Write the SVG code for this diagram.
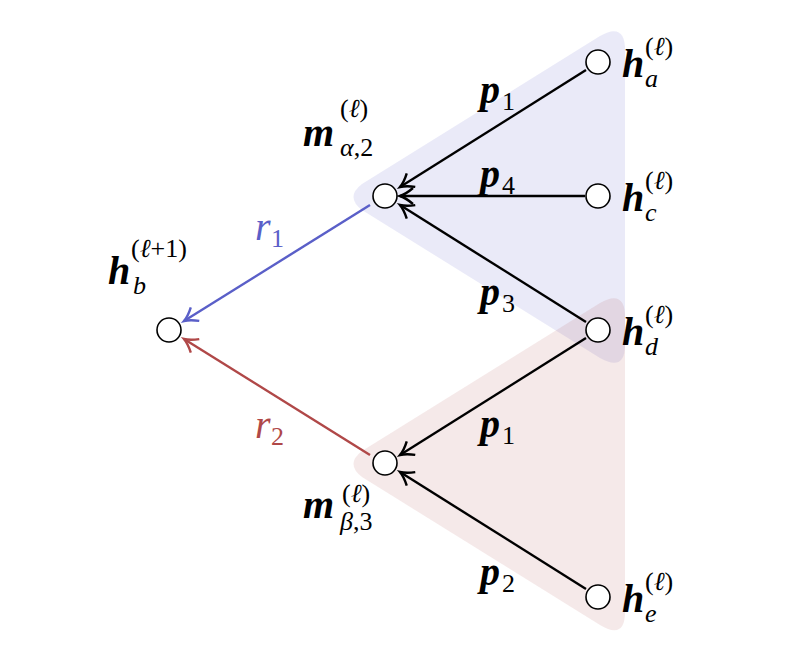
<svg xmlns="http://www.w3.org/2000/svg" width="806" height="662" viewBox="0 0 806 662">
<style>
.n{fill:#fff;stroke:#000;stroke-width:1.6}
.t{font-family:"Liberation Serif",serif;font-style:italic;font-weight:bold;font-size:40px}
.s{font-family:"Liberation Serif",serif;font-style:italic;font-size:26px}
.u{font-family:"Liberation Serif",serif;font-style:normal;font-size:26px}
.e{stroke-width:2.4;fill:none}
</style>
<defs>
<marker id="ak" viewBox="0 0 12 12" refX="10" refY="6" markerWidth="12" markerHeight="12" markerUnits="userSpaceOnUse" orient="auto" overflow="visible"><path d="M-3,-2 Q4,4 10,6 Q4,8 -3,14" fill="none" stroke="#000" stroke-width="2.4"/></marker>
<marker id="ab" viewBox="0 0 12 12" refX="10" refY="6" markerWidth="12" markerHeight="12" markerUnits="userSpaceOnUse" orient="auto" overflow="visible"><path d="M-3,-2 Q4,4 10,6 Q4,8 -3,14" fill="none" stroke="#5a5fc8" stroke-width="2.4"/></marker>
<marker id="ar" viewBox="0 0 12 12" refX="10" refY="6" markerWidth="12" markerHeight="12" markerUnits="userSpaceOnUse" orient="auto" overflow="visible"><path d="M-3,-2 Q4,4 10,6 Q4,8 -3,14" fill="none" stroke="#b04848" stroke-width="2.4"/></marker>
</defs>
<g id="regions">
<path d="M362,184 L600,36 Q625,22 625,50 L625,345 Q625,372 600,358 L362,210 Q345,197 362,184 Z" fill="#5a5fc8" fill-opacity="0.13"/>
<path d="M362,451 L600,303 Q625,289 625,317 L625,612 Q625,640 600,625 L362,477 Q345,464 362,451 Z" fill="#b04848" fill-opacity="0.12"/>
</g>
<g id="connectors">
<line class="e" stroke="#000" x1="586" y1="70" x2="400" y2="187" marker-end="url(#ak)"/>
<line class="e" stroke="#000" x1="585" y1="196" x2="400" y2="196" marker-end="url(#ak)"/>
<line class="e" stroke="#000" x1="586" y1="322" x2="400" y2="205" marker-end="url(#ak)"/>
<line class="e" stroke="#000" x1="586" y1="338" x2="400" y2="455" marker-end="url(#ak)"/>
<line class="e" stroke="#000" x1="586" y1="589" x2="400" y2="472" marker-end="url(#ak)"/>
<line class="e" stroke="#5a5fc8" x1="370" y1="205" x2="184" y2="321" marker-end="url(#ab)"/>
<line class="e" stroke="#b04848" x1="370" y1="455" x2="184" y2="339" marker-end="url(#ar)"/>
<text class="t" x="480" y="103">p</text><text class="u" x="502" y="110">1</text>
<text class="t" x="480" y="187">p</text><text class="u" x="502" y="194">4</text>
<text class="t" x="480" y="305">p</text><text class="u" x="502" y="312">3</text>
<text class="t" x="480" y="437">p</text><text class="u" x="502" y="444">1</text>
<text class="t" x="480" y="585">p</text><text class="u" x="502" y="592">2</text>
<text x="255" y="240" font-family="Liberation Serif,serif" font-style="italic" font-size="40" fill="#5a5fc8">r</text><text class="u" x="271" y="247" fill="#5a5fc8">1</text>
<text x="255" y="438" font-family="Liberation Serif,serif" font-style="italic" font-size="40" fill="#b04848">r</text><text class="u" x="271" y="445" fill="#b04848">2</text>
</g>
<g id="hb"><circle class="n" cx="169" cy="330" r="12"/><text class="t" x="108" y="284">h</text><text class="u" x="131" y="257">(<tspan class="s">ℓ</tspan>+1)</text><text class="s" x="133" y="294">b</text></g>
<g id="malpha"><circle class="n" cx="385" cy="196" r="12"/><text class="t" x="303" y="146">m</text><text class="u" x="340" y="117">(<tspan class="s">ℓ</tspan>)</text><text class="s" x="340" y="156">α<tspan class="u">,2</tspan></text></g>
<g id="mbeta"><circle class="n" cx="385" cy="463" r="12"/><text class="t" x="303" y="518">m</text><text class="u" x="342" y="502">(<tspan class="s">ℓ</tspan>)</text><text class="s" x="340" y="530">β<tspan class="u">,3</tspan></text></g>
<g id="ha"><circle class="n" cx="598" cy="62" r="12"/><text class="t" x="622" y="77">h</text><text class="u" x="645" y="55">(<tspan class="s">ℓ</tspan>)</text><text class="s" x="645" y="87">a</text></g>
<g id="hc"><circle class="n" cx="598" cy="196" r="12"/><text class="t" x="622" y="211">h</text><text class="u" x="645" y="189">(<tspan class="s">ℓ</tspan>)</text><text class="s" x="645" y="221">c</text></g>
<g id="hd"><circle class="n" cx="598" cy="330" r="12"/><text class="t" x="622" y="345">h</text><text class="u" x="645" y="323">(<tspan class="s">ℓ</tspan>)</text><text class="s" x="645" y="355">d</text></g>
<g id="he"><circle class="n" cx="598" cy="597" r="12"/><text class="t" x="622" y="612">h</text><text class="u" x="645" y="590">(<tspan class="s">ℓ</tspan>)</text><text class="s" x="645" y="622">e</text></g>
</svg>
